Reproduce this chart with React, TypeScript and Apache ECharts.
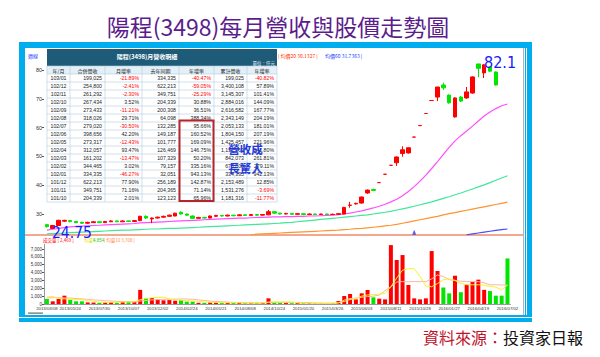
import React, { useEffect, useRef } from "react";
import * as echarts from "echarts";

// ---------- data ----------
const tickLabels = [
  "2013/03/08", "2013/05/24", "2013/07/30", "2013/10/07", "2013/12/02", "2014/02/24",
  "2014/05/21", "2014/08/08", "2014/10/24", "2015/01/20", "2015/03/26", "2015/06/03",
  "2015/08/11", "2015/10/28", "2016/01/27", "2016/04/19", "2016/07/02",
];
const tickIndex = [0, 4, 9, 14, 19, 24, 29, 34, 39, 44, 49, 54, 59, 64, 69, 74, 79];

// [open, close, low, high]
const candles: any[] = [
  [26.3, 25.6, 25.3, 26.6], [25.0, 26.0, 24.75, 26.2], [26.0, 27.8, 25.9, 28.0], [27.5, 27.8, 27.2, 28.0],
  [27.7, 27.4, 27.1, 27.9], [27.4, 27.0, 26.8, 27.6], [27.1, 26.8, 26.6, 27.3], [26.8, 27.1, 26.6, 27.3],
  [27.0, 27.3, 26.9, 27.5], [27.3, 27.0, 26.9, 27.4], [27.0, 27.4, 26.9, 27.6], [27.3, 27.6, 27.2, 27.8],
  [27.6, 27.3, 27.2, 27.7], [27.3, 27.6, 27.2, 27.8], [27.6, 27.4, 27.2, 27.7], [27.4, 27.7, 27.3, 27.9],
  [27.7, 29.2, 27.5, 29.4], [29.2, 28.6, 28.3, 29.5], [28.3, 28.6, 26.8, 28.8], [28.6, 28.9, 28.4, 29.1],
  [28.9, 29.2, 28.7, 29.4], [29.2, 29.6, 29.0, 29.8], [29.3, 30.3, 29.2, 30.4], [30.6, 30.0, 29.8, 30.9],
  [30.0, 29.6, 29.4, 30.1], [29.3, 28.5, 28.3, 29.5], [28.5, 28.8, 28.4, 29.0], [28.8, 28.6, 28.4, 29.0],
  [28.6, 29.3, 28.5, 29.5], [29.2, 29.5, 29.0, 29.7], [29.5, 29.3, 29.1, 29.6], [29.3, 29.6, 29.2, 29.8],
  [29.6, 29.4, 29.2, 29.7], [29.4, 29.7, 29.3, 29.9], [29.7, 29.5, 29.3, 29.8], [29.5, 29.8, 29.4, 30.0],
  [29.8, 29.6, 29.4, 29.9], [29.6, 29.8, 29.5, 30.0], [29.7, 30.8, 29.6, 31.4], [30.8, 30.3, 30.1, 31.0],
  [30.3, 30.0, 29.8, 30.4], [30.0, 30.2, 29.9, 30.4], [30.2, 29.9, 29.7, 30.3], [29.9, 30.1, 29.8, 30.3],
  [30.1, 29.8, 29.6, 30.2], [29.8, 30.0, 29.7, 30.2], [30.0, 29.8, 29.6, 30.1], [29.8, 30.0, 29.7, 30.1],
  [30.0, 29.8, 29.6, 30.1], [29.8, 29.9, 29.7, 30.1], [29.9, 30.1, 29.8, 30.3], [30.0, 32.3, 29.9, 32.5],
  [33.0, 33.1, 32.2, 34.2], [33.5, 33.7, 33.3, 33.9], [33.8, 35.9, 33.6, 36.0], [37.3, 38.3, 37.0, 38.5],
  [38.5, 38.2, 38.0, 38.8], [40.9, 40.9, 40.9, 40.9], [43.8, 43.8, 43.8, 43.8], [46.9, 46.9, 46.9, 46.9],
  [47.8, 49.8, 46.7, 50.0], [51.0, 52.3, 49.9, 53.5], [51.2, 53.0, 51.0, 53.1], [56.7, 56.7, 56.7, 56.7],
  [60.7, 60.7, 60.7, 60.7], [64.9, 64.9, 64.9, 64.9], [69.4, 69.4, 69.4, 69.4], [70.6, 74.1, 69.2, 74.1],
  [74.8, 73.8, 73.1, 75.6], [71.3, 68.6, 68.3, 71.5], [63.7, 70.3, 63.5, 70.5], [70.6, 69.2, 68.9, 71.0],
  [70.3, 72.4, 70.0, 74.1], [72.0, 77.6, 71.8, 77.8], [82.1, 80.6, 77.5, 82.1], [79.0, 81.8, 77.2, 82.1],
  [81.0, 79.6, 79.3, 81.3], [79.3, 74.8, 74.6, 79.5], ["-", "-", "-", "-"], ["-", "-", "-", "-"],
];

const maPink = [
  24.4, 24.7, 25.0, 25.3, 25.5, 25.7, 25.8, 25.9, 26.0, 26.1,
  26.2, 26.3, 26.4, 26.5, 26.6, 26.7, 26.9, 27.0, 27.1, 27.2,
  27.3, 27.4, 27.5, 27.6, 27.7, 27.8, 27.9, 28.0, 28.1, 28.2,
  28.3, 28.4, 28.5, 28.6, 28.6, 28.7, 28.8, 28.8, 28.9, 29.0,
  29.0, 29.1, 29.1, 29.2, 29.2, 29.3, 29.3, 29.4, 29.5, 29.6,
  29.8, 30.0, 30.3, 30.7, 31.1, 31.6, 32.1, 32.7, 33.4, 34.2,
  35.1, 36.3, 37.8, 39.5, 41.4, 43.5, 45.8, 48.2, 50.7, 53.1,
  55.4, 57.2, 58.8, 60.5, 62.3, 64.0, 65.4, 66.6, 67.6, 68.2,
];
const maMint = [
  23.1, 23.2, 23.3, 23.4, 23.5, 23.6, 23.7, 23.8, 23.9, 24.0,
  24.1, 24.2, 24.3, 24.4, 24.4, 24.5, 24.6, 24.7, 24.8, 24.8,
  24.9, 25.0, 25.0, 25.1, 25.2, 25.3, 25.4, 25.5, 25.6, 25.7,
  25.8, 25.9, 26.0, 26.1, 26.2, 26.3, 26.4, 26.5, 26.6, 26.7,
  26.8, 27.0, 27.1, 27.3, 27.5, 27.7, 27.9, 28.1, 28.3, 28.5,
  28.7, 28.9, 29.1, 29.3, 29.5, 29.7, 30.0, 30.3, 30.6, 30.9,
  31.4, 31.8, 32.2, 32.7, 33.2, 33.7, 34.2, 34.8, 35.4, 36.0,
  36.7, 37.3, 38.0, 38.7, 39.4, 40.1, 40.9, 41.7, 42.5, 43.3,
];
const maOrange: any[] = [
  "-", "-", "-", "-", "-", "-", "-", "-", "-", "-",
  "-", "-", "-", "-", "-", "-", "-", "-", "-", "-",
  "-", "-", "-", "-", "-", "-", "-", "-", "-", "-",
  "-", "-", "-", "-", "-", 22.8, 23.0, 23.1, 23.2, 23.3,
  23.4, 23.5, 23.6, 23.7, 23.8, 23.9, 24.0, 24.1, 24.2, 24.3,
  24.4, 24.6, 24.7, 24.9, 25.0, 25.2, 25.4, 25.6, 25.9, 26.1,
  26.4, 26.8, 27.2, 27.6, 28.0, 28.4, 28.8, 29.2, 29.7, 30.1,
  30.5, 30.9, 31.3, 31.7, 32.1, 32.5, 32.9, 33.3, 33.7, 34.1,
];
const maBlue: any[] = [
  "-", "-", "-", "-", "-", "-", "-", "-", "-", "-",
  "-", "-", "-", "-", "-", "-", "-", "-", "-", "-",
  "-", "-", "-", "-", "-", "-", "-", "-", "-", "-",
  "-", "-", "-", "-", "-", "-", "-", "-", "-", "-",
  "-", "-", "-", "-", "-", "-", "-", "-", "-", "-",
  "-", "-", "-", "-", "-", "-", "-", "-", "-", "-",
  "-", "-", "-", "-", "-", "-", "-", "-", "-", "-",
  "-", "-", 22.8, 23.1, 23.4, 23.7, 24.0, 24.3, 24.6, 24.8,
];
const lowMark = [[63, 23.7]];

const volume = [
  640, 340, 640, 1060, 550, 340, 340, 200, 180, 150,
  250, 250, 150, 330, 330, 330, 1800, 760, 760, 590,
  470, 500, 420, 500, 300, 300, 150, 150, 200, 200,
  120, 150, 120, 150, 120, 100, 120, 150, 720, 200,
  150, 120, 100, 120, 100, 90, 100, 80, 90, 100,
  380, 1020, 1270, 590, 1360, 1780, 850, 680, 590, 7500,
  5600, 6230, 2420, 720, 590, 720, 6740, 4200, 2100, 1360,
  3600, 1500, 2480, 2800, 3100, 1800, 1650, 1060, 1060, 5800,
];
const volumeUp = [
  0, 1, 1, 1, 0, 0, 0, 1, 1, 0,
  1, 1, 0, 1, 0, 1, 1, 0, 1, 1,
  1, 1, 1, 0, 0, 0, 1, 0, 1, 1,
  0, 1, 0, 1, 0, 1, 0, 1, 1, 0,
  0, 1, 0, 1, 0, 1, 0, 1, 0, 1,
  1, 1, 1, 1, 1, 1, 0, 1, 1, 1,
  1, 1, 1, 1, 1, 1, 1, 1, 0, 0,
  1, 0, 1, 1, 1, 1, 0, 0, 0, 0,
];
const volMa5 = [
  900, 950, 700, 650, 620, 580, 560, 420, 350, 230,
  200, 210, 210, 250, 270, 280, 550, 700, 800, 840,
  880, 620, 550, 490, 440, 400, 330, 280, 220, 200,
  175, 165, 160, 150, 130, 130, 130, 130, 250, 270,
  270, 270, 260, 140, 120, 105, 100, 95, 90, 90,
  150, 330, 570, 680, 1000, 1150, 1200, 1250, 1350, 2200,
  3300, 4300, 4500, 4500, 3500, 2300, 2200, 2600, 3100, 3200,
  3000, 2600, 2450, 2450, 2450, 2400, 2250, 2150, 1800, 2400,
];
const volMa10 = [
  750, 800, 800, 780, 760, 700, 650, 600, 520, 470,
  420, 380, 330, 300, 270, 260, 380, 450, 520, 560,
  600, 620, 620, 640, 640, 600, 520, 450, 370, 320,
  280, 240, 200, 180, 160, 150, 140, 140, 200, 210,
  200, 200, 190, 190, 190, 180, 120, 110, 100, 100,
  150, 500, 700, 750, 850, 950, 1000, 1140, 1700, 2200,
  2800, 2850, 2850, 2850, 2850, 2850, 3200, 3700, 3500, 3100,
  3000, 2900, 2850, 2850, 2850, 2700, 2450, 2450, 2420, 2400,
];
const priceTicks = [30, 40, 50, 60, 70, 80];
const volumeTicks = [0, 1000, 2000, 3000, 4000, 5000, 6000, 7000];

// table
const tableHeaders = ["年/月", "合併營收", "月增率", "去年同期", "年增率", "累計營收", "年增率"];
const months = ["103/01", "102/12", "102/11", "102/10", "102/09", "102/08", "102/07", "102/06", "102/05", "102/04", "102/03", "102/02", "102/01", "101/12", "101/11", "101/10"];
const revenue = ["199,025", "254,800", "261,292", "267,434", "273,433", "318,026", "279,020", "398,656", "273,317", "312,057", "161,202", "344,465", "334,335", "622,213", "349,751", "204,339"];
const momRate = ["-21.89%", "-2.41%", "-2.30%", "3.52%", "-11.21%", "29.71%", "-30.50%", "42.20%", "-12.43%", "93.47%", "-13.47%", "3.02%", "-46.27%", "77.90%", "71.16%", "2.01%"];
const lastYear = ["334,335", "622,213", "349,751", "204,339", "200,308", "64,098", "132,285", "149,187", "101,777", "126,469", "107,329", "79,157", "32,051", "256,189", "204,365", "123,123"];
const yoyRate = ["-40.47%", "-59.05%", "-25.29%", "30.88%", "36.51%", "388.34%", "95.66%", "160.52%", "169.09%", "146.75%", "50.20%", "335.16%", "943.13%", "142.87%", "71.14%", "65.96%"];
const cumRevenue = ["199,025", "3,400,108", "3,145,307", "2,884,016", "2,616,582", "2,343,149", "2,053,133", "1,804,150", "1,425,457", "1,152,059", "842,073", "678,800", "334,335", "2,153,489", "1,531,276", "1,181,316"];
const cumYoy = ["-40.82%", "57.89%", "101.41%", "144.09%", "167.77%", "204.19%", "181.01%", "207.19%", "221.96%", "241.80%", "261.81%", "279.11%", "942.13%", "12.85%", "-3.69%", "-11.77%"];

// ---------- chart ----------
const RED = "#ff0000";
const GREEN = "#00e600";
const CJK = '"Noto Sans CJK TC"';
const LAT = '"Liberation Sans"';

function txt(x: number, y: number, text: string, fill: string, font: string, align = "left", z = 60) {
  return {
    type: "text", z, x, y,
    style: { text, fill, font, textAlign: align, align, textVerticalAlign: "middle", verticalAlign: "middle" },
  };
}

function buildGraphics() {
  const g: any[] = [];
  // frame
  g.push({ type: "rect", z: -10, shape: { x: 19, y: 42, width: 513, height: 280 }, style: { fill: "#00aeef" } });
  g.push({ type: "rect", z: -9, shape: { x: 25, y: 48, width: 502, height: 267 }, style: { fill: "#ffffff" } });
  g.push({ type: "line", z: -8, shape: { x1: 19, y1: 317.5, x2: 532, y2: 317.5 }, style: { stroke: "#ffffff", lineWidth: 1 } });
  g.push({ type: "line", z: -8, shape: { x1: 523.5, y1: 48, x2: 523.5, y2: 315 }, style: { stroke: "#b5b5b5", lineWidth: 1 } });
  g.push({ type: "line", z: -8, shape: { x1: 525.5, y1: 48, x2: 525.5, y2: 315 }, style: { stroke: "#00aeef", lineWidth: 1 } });
  g.push({ type: "rect", z: -8, shape: { x: 28, y: 312.5, width: 15, height: 1.2 }, style: { fill: "#666" } });
  // separator between price and volume panels
  g.push({ type: "line", z: 1, shape: { x1: 25, y1: 235, x2: 523, y2: 235 }, style: { stroke: "#e8501e", lineWidth: 1.2 } });

  // title & source
  g.push(txt(278, 25.5, "陽程(3498)每月營收與股價走勢圖", "#5b1d8c", `23px ${CJK}`, "center"));
  g.push(txt(423, 337, "資料來源：", "#c0102a", `16px ${CJK}`));
  g.push(txt(503, 337, "投資家日報", "#111111", `16px ${CJK}`));

  // small info texts
  g.push(txt(28, 55, "週線", "#1a3cff", `5px ${CJK}`));
  g.push(txt(278, 55, "| 均價20 30.1327 |", "#ff3300", `5px ${CJK}`));
  g.push(txt(325, 55, "均價60 31.7363 |", "#1a3cff", `5px ${CJK}`));
  g.push(txt(43, 240, "成交量 [ 2,469 ]", "#ff0000", `4.5px ${CJK}`));
  g.push(txt(84, 240, "均量5", "#dddd00", `4.5px ${CJK}`));
  g.push(txt(93, 240, "4,854", "#33cc33", `4.5px ${LAT}`));
  g.push(txt(104, 240, "| 均量10 3,708 |", "#ff8844", `4.5px ${CJK}`));

  // table
  const cols = [47, 70, 105, 142, 179, 214, 247, 277];
  const top = 49, headH = 17, rowH = 8;
  const hdrBottom = top + headH;
  const rowsTop = hdrBottom + rowH;
  const nRows = months.length;
  const bottom = rowsTop + nRows * rowH;
  const Z = 40;
  g.push({ type: "rect", z: Z, shape: { x: cols[0], y: top, width: cols[7] - cols[0], height: headH }, style: { fill: "#1d5b78" } });
  g.push({ type: "rect", z: Z, shape: { x: cols[0], y: hdrBottom, width: cols[7] - cols[0], height: rowH }, style: { fill: "#e3f0f7" } });
  g.push({ type: "rect", z: Z, shape: { x: cols[0], y: rowsTop, width: cols[7] - cols[0], height: nRows * rowH }, style: { fill: "#ffffff" } });
  g.push(txt(147, 56.5, "陽程(3498)月營收明細", "#ffffff", `bold 6px ${CJK}`, "center", Z + 2));
  g.push(txt(275, 63, "單位：仟元", "#ffffff", `4.5px ${CJK}`, "right", Z + 2));
  for (let k = 0; k <= nRows + 1; k++) {
    const y = hdrBottom + k * rowH;
    g.push({ type: "line", z: Z + 1, shape: { x1: cols[0], y1: y, x2: cols[7], y2: y }, style: { stroke: "#b2cfe0", lineWidth: 0.6 } });
  }
  cols.forEach((x) => {
    g.push({ type: "line", z: Z + 1, shape: { x1: x, y1: hdrBottom, x2: x, y2: bottom }, style: { stroke: "#b2cfe0", lineWidth: 0.6 } });
  });
  tableHeaders.forEach((h, c) => {
    g.push(txt((cols[c] + cols[c + 1]) / 2, hdrBottom + rowH / 2, h, "#222", `5px ${CJK}`, "center", Z + 2));
  });
  const columns = [months, revenue, momRate, lastYear, yoyRate, cumRevenue, cumYoy];
  for (let r = 0; r < nRows; r++) {
    const cy = rowsTop + r * rowH + rowH / 2;
    columns.forEach((col, c) => {
      const v = col[r];
      const color = v.startsWith("-") ? "#ff0000" : "#222222";
      if (c === 0) g.push(txt((cols[0] + cols[1]) / 2, cy, v, color, `5.2px ${LAT}`, "center", Z + 2));
      else g.push(txt(cols[c + 1] - 3, cy, v, color, `5.2px ${LAT}`, "right", Z + 2));
    });
  }
  // red highlight box on YoY column
  g.push({ type: "rect", z: Z + 3, shape: { x: 179.5, y: 120.5, width: 34, height: 80.5 }, style: { fill: "none", stroke: "#b5262b", lineWidth: 2 } });
  // annotation
  g.push(txt(245.5, 148.5, "營收成", "#2438d8", `bold 11.5px ${CJK}`, "center", Z + 5));
  g.push(txt(245.5, 167.5, "長驚人", "#2438d8", `bold 11.5px ${CJK}`, "center", Z + 5));

  // extreme price labels
  g.push(txt(52, 233, "24.75", "#1a1aff", `15.5px "Liberation Sans Narrow", "DejaVu Sans Condensed", sans-serif`, "left", 70));
  g.push(txt(484, 62, "82.1", "#1a1aff", `16px "Liberation Sans Narrow", "DejaVu Sans Condensed", sans-serif`, "left", 70));
  return g;
}

function buildOption() {
  const categories = candles.map((_, i) => {
    const k = tickIndex.indexOf(i);
    return k >= 0 ? tickLabels[k] : `#${i}`;
  });
  const showTick = (i: number) => tickIndex.includes(i);
  const gridLeft = 44;
  const gridWidth = 466.4;
  const lineCommon = { type: "line", symbol: "none", showSymbol: false, xAxisIndex: 0, yAxisIndex: 0, connectNulls: false };
  return {
    animation: false,
    backgroundColor: "#ffffff",
    grid: [
      { left: gridLeft, top: 41.2, width: gridWidth, height: 201.6 },
      { left: gridLeft, top: 244.3, width: gridWidth, height: 59.7 },
    ],
    xAxis: [
      { type: "category", gridIndex: 0, data: categories, show: false, boundaryGap: true },
      {
        type: "category", gridIndex: 1, data: categories, boundaryGap: true,
        axisLine: { lineStyle: { color: "#999999", width: 1 } },
        axisTick: { interval: (i: number) => showTick(i), length: 2, lineStyle: { color: "#666" } },
        axisLabel: { interval: (i: number) => showTick(i), fontSize: 4.3, color: "#333", margin: 2.5, fontFamily: "Liberation Sans" },
      },
    ],
    yAxis: [
      {
        type: "value", gridIndex: 0, min: 20, max: 90, interval: 10,
        splitLine: { show: false }, axisLine: { show: false },
        axisTick: { show: true, customValues: priceTicks, length: 2, lineStyle: { color: "#555" } },
        axisLabel: { customValues: priceTicks, fontSize: 5.5, color: "#333", margin: 2, fontFamily: "Liberation Sans" },
      },
      {
        type: "value", gridIndex: 1, min: 0, max: 7600, interval: 1000,
        splitLine: { show: false },
        axisLine: { show: true, lineStyle: { color: "#999" } },
        axisTick: { show: true, customValues: volumeTicks, length: 2, lineStyle: { color: "#555" } },
        axisLabel: {
          customValues: volumeTicks, fontSize: 4.5, color: "#333", margin: 2, fontFamily: "Liberation Sans",
          formatter: (v: number) => v.toLocaleString("en-US"),
        },
      },
    ],
    graphic: { elements: buildGraphics() },
    series: [
      {
        type: "candlestick", xAxisIndex: 0, yAxisIndex: 0, data: candles, barWidth: 4, z: 5,
        itemStyle: { color: RED, color0: GREEN, borderColor: RED, borderColor0: GREEN, borderWidth: 1 },
      },
      { ...lineCommon, data: maPink, lineStyle: { color: "#ff4dff", width: 1.2 }, z: 3 },
      { ...lineCommon, data: maMint, lineStyle: { color: "#3fe898", width: 1.2 }, z: 3 },
      { ...lineCommon, data: maOrange, lineStyle: { color: "#ff9430", width: 1.2 }, z: 3 },
      { ...lineCommon, data: maBlue, lineStyle: { color: "#3f4dff", width: 1.2 }, z: 3 },
      {
        type: "scatter", xAxisIndex: 0, yAxisIndex: 0, data: lowMark, symbol: "triangle", symbolSize: [4, 5],
        itemStyle: { color: "#2233ff" }, z: 4,
      },
      {
        type: "bar", xAxisIndex: 1, yAxisIndex: 1, barWidth: 4, z: 3,
        data: volume.map((v, i) => ({ value: v, itemStyle: { color: volumeUp[i] ? RED : GREEN } })),
      },
      {
        type: "line", xAxisIndex: 1, yAxisIndex: 1, data: volMa10, symbol: "none", showSymbol: false,
        lineStyle: { color: "#ffb4a2", width: 1 }, z: 4,
      },
      {
        type: "line", xAxisIndex: 1, yAxisIndex: 1, data: volMa5, symbol: "none", showSymbol: false,
        lineStyle: { color: "#f6f22a", width: 1 }, z: 4,
      },
    ],
  };
}

export default function App() {
  const ref = useRef<HTMLDivElement>(null);
  useEffect(() => {
    if (!ref.current) return;
    const chart = echarts.init(ref.current, undefined, { renderer: "svg" });
    chart.setOption(buildOption() as any);
    return () => chart.dispose();
  }, []);
  return <div ref={ref} style={{ position: "fixed", left: 0, top: 0, width: 600, height: 357 }} />;
}
